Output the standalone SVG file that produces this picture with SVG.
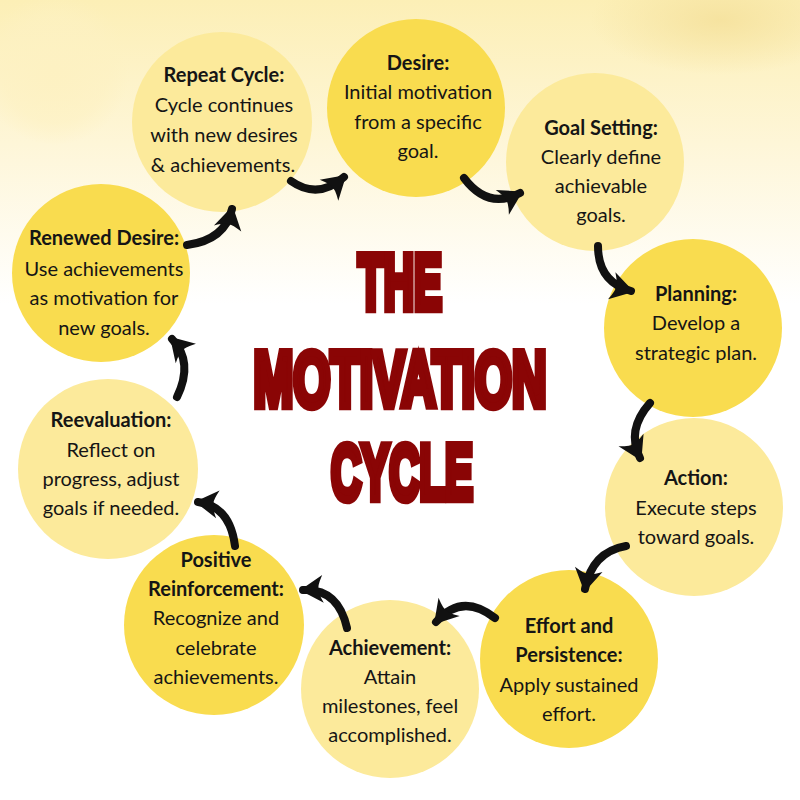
<svg xmlns="http://www.w3.org/2000/svg" width="800" height="800" viewBox="0 0 800 800">
<defs>
<linearGradient id="bg" x1="0" y1="0" x2="0" y2="1">
<stop offset="0" stop-color="#fcefb6"/>
<stop offset="0.18" stop-color="#fef6d8"/>
<stop offset="0.38" stop-color="#ffffff"/>
<stop offset="1" stop-color="#ffffff"/>
</linearGradient>
<radialGradient id="blobL" cx="0.5" cy="0.5" r="0.5">
<stop offset="0" stop-color="#fdf1c2"/>
<stop offset="0.7" stop-color="#fdf1c2" stop-opacity="0.6"/>
<stop offset="1" stop-color="#fdf1c2" stop-opacity="0"/>
</radialGradient>
<radialGradient id="blobR" cx="0.5" cy="0.5" r="0.5">
<stop offset="0" stop-color="#f6e3a0"/>
<stop offset="1" stop-color="#f6e3a0" stop-opacity="0"/>
</radialGradient>
<marker id="head" viewBox="-24 -16 30 32" refX="0" refY="0" markerWidth="30" markerHeight="32" markerUnits="userSpaceOnUse" orient="auto">
<path d="M3,0 L-20,-14 Q-14,-2 -16,0 Q-14,2 -20,14 Z" fill="#111"/>
</marker>
<style>
.dark{fill:#f9dc4f}
.light{fill:#fcea9b}
.h{font-family:Lato,"Liberation Sans",sans-serif;font-weight:700;font-size:20px;fill:#151515;text-anchor:middle}
.t{font-family:Lato,"Liberation Sans",sans-serif;font-weight:400;font-size:20px;fill:#151515;text-anchor:middle}
.title{font-family:"Liberation Sans",Arial,sans-serif;font-weight:700;font-size:78px;fill:#8a0505;stroke:#8a0505;stroke-width:7;stroke-linejoin:miter;text-anchor:middle;vector-effect:non-scaling-stroke}
.arr{fill:none;stroke:#111;stroke-width:8;stroke-linecap:round;marker-end:url(#head)}
</style>
</defs>
<rect width="800" height="800" fill="url(#bg)"/>
<circle cx="55" cy="70" r="75" fill="url(#blobL)"/>
<ellipse cx="720" cy="20" rx="130" ry="55" fill="url(#blobR)"/>

<g id="title">
<text class="title" transform="translate(400,309) scale(0.538,1)" x="0" y="0">THE</text>
<text class="title" transform="translate(400,406) scale(0.613,1)" x="0" y="0">MOTIVATION</text>
<text class="title" transform="translate(402,499) scale(0.538,1)" x="0" y="0">CYCLE</text>
</g>

<g id="node-desire">
<circle class="dark" cx="416" cy="108" r="89"/>
<text class="h" x="418" y="70">Desire:</text>
<text class="t" x="418" y="99">Initial motivation</text>
<text class="t" x="418" y="129">from a specific</text>
<text class="t" x="418" y="158">goal.</text>
</g>
<g id="node-goal-setting">
<circle class="light" cx="595" cy="162" r="89"/>
<text class="h" x="601" y="135">Goal Setting:</text>
<text class="t" x="601" y="164">Clearly define</text>
<text class="t" x="601" y="193">achievable</text>
<text class="t" x="601" y="222">goals.</text>
</g>
<g id="node-planning">
<circle class="dark" cx="693" cy="328" r="89"/>
<text class="h" x="696" y="301">Planning:</text>
<text class="t" x="696" y="330">Develop a</text>
<text class="t" x="696" y="360">strategic plan.</text>
</g>
<g id="node-action">
<circle class="light" cx="694" cy="507" r="89"/>
<text class="h" x="696" y="485">Action:</text>
<text class="t" x="696" y="515">Execute steps</text>
<text class="t" x="696" y="544">toward goals.</text>
</g>
<g id="node-effort">
<circle class="dark" cx="569" cy="659" r="89"/>
<text class="h" x="569" y="633">Effort and</text>
<text class="h" x="569" y="662">Persistence:</text>
<text class="t" x="569" y="692">Apply sustained</text>
<text class="t" x="569" y="721">effort.</text>
</g>
<g id="node-achievement">
<circle class="light" cx="390" cy="689" r="89"/>
<text class="h" x="390" y="655">Achievement:</text>
<text class="t" x="390" y="684">Attain</text>
<text class="t" x="390" y="713">milestones, feel</text>
<text class="t" x="390" y="742">accomplished.</text>
</g>
<g id="node-positive">
<circle class="dark" cx="214" cy="625" r="90"/>
<text class="h" x="216" y="567">Positive</text>
<text class="h" x="216" y="596">Reinforcement:</text>
<text class="t" x="216" y="625">Recognize and</text>
<text class="t" x="216" y="655">celebrate</text>
<text class="t" x="216" y="684">achievements.</text>
</g>
<g id="node-reevaluation">
<circle class="light" cx="108" cy="469" r="90"/>
<text class="h" x="111" y="427">Reevaluation:</text>
<text class="t" x="111" y="457">Reflect on</text>
<text class="t" x="111" y="486">progress, adjust</text>
<text class="t" x="111" y="515">goals if needed.</text>
</g>
<g id="node-renewed">
<circle class="dark" cx="101" cy="273" r="89"/>
<text class="h" x="104" y="245">Renewed Desire:</text>
<text class="t" x="104" y="276">Use achievements</text>
<text class="t" x="104" y="305">as motivation for</text>
<text class="t" x="104" y="335">new goals.</text>
</g>
<g id="node-repeat">
<circle class="light" cx="222" cy="122" r="90"/>
<text class="h" x="224" y="82">Repeat Cycle:</text>
<text class="t" x="224" y="112">Cycle continues</text>
<text class="t" x="224" y="142">with new desires</text>
<text class="t" x="223" y="172">&amp; achievements.</text>
</g>

<g id="connectors">
<path class="arr" d="M291,181 Q318,200 344,177"/>
<path class="arr" d="M464,178 Q488,210 520,193"/>
<path class="arr" d="M598,246 Q598,282 631,291"/>
<path class="arr" d="M650,403 Q626,430 640,458"/>
<path class="arr" d="M626,546 Q592,552 585,589"/>
<path class="arr" d="M495,618 Q462,592 436,622"/>
<path class="arr" d="M347,628 Q338,588 303,590"/>
<path class="arr" d="M235,546 Q230,506 198,502"/>
<path class="arr" d="M177,397 Q194,362 172,339"/>
<path class="arr" d="M187,245 Q225,240 232,209"/>
</g>
</svg>
